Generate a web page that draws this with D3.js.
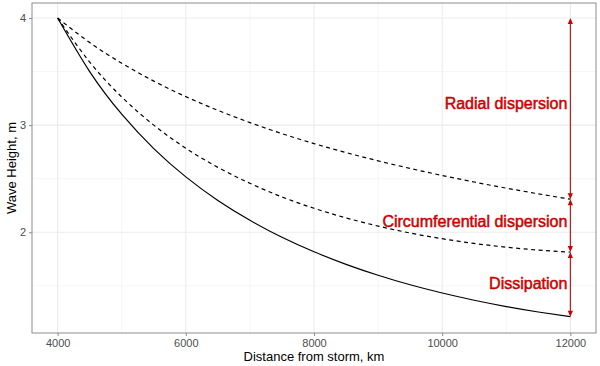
<!DOCTYPE html>
<html>
<head>
<meta charset="utf-8">
<script src="https://cdn.jsdelivr.net/npm/d3@7"></script>
<style>
  html, body { margin: 0; padding: 0; background: #fff; }
  svg { display: block; font-family: "Liberation Sans", Arial, sans-serif; }
</style>
</head>
<body>
<div id="chart"></div>
<script>
// distance from storm (km)
const distance = [4000, 4500, 5000, 5500, 6000, 6500, 7000, 7500, 8000,
  8500, 9000, 9500, 10000, 10500, 11000, 11500, 12000];
// wave height, radial dispersion only (upper dashed)
const radial = [4.000, 3.771, 3.578, 3.411, 3.266, 3.138, 3.024, 2.921, 2.828,
  2.744, 2.667, 2.596, 2.530, 2.469, 2.412, 2.359, 2.309];
// + circumferential dispersion (lower dashed)
const circumferential = [4.000, 3.589, 3.263, 3.000, 2.784, 2.606, 2.457, 2.330, 2.224,
  2.134, 2.058, 1.993, 1.940, 1.896, 1.861, 1.834, 1.815];
// + dissipation (solid)
const dissipation = [4.000, 3.500, 3.102, 2.781, 2.517, 2.297, 2.112, 1.953, 1.818,
  1.701, 1.599, 1.510, 1.433, 1.366, 1.307, 1.256, 1.212];

const xTicks = [4000, 6000, 8000, 10000, 12000];
const xMinor = [5000, 7000, 9000, 11000];
const yTicks = [2, 3, 4];
const yMinor = [1.5, 2.5, 3.5];

const annoLabels = ['Radial dispersion', 'Circumferential dispersion', 'Dissipation'];
const annoLabelY = [3.2, 2.1, 1.52];

const width = 600, height = 366;
const panel = { left: 32, right: 596, top: 3, bottom: 333 };
const red = '#cd0000';

const svg = d3.select('#chart').append('svg')
  .attr('width', width)
  .attr('height', height);

const x = d3.scaleLinear().domain([3600, 12400]).range([panel.left, panel.right]);
const y = d3.scaleLinear().domain([1.06, 4.14]).range([panel.bottom, panel.top]);

// grid
const grid = svg.append('g');
grid.selectAll('.xminor').data(xMinor).enter().append('line')
  .attr('x1', d => x(d)).attr('x2', d => x(d))
  .attr('y1', panel.top).attr('y2', panel.bottom)
  .attr('stroke', '#f0f0f0').attr('stroke-width', 0.7);
grid.selectAll('.yminor').data(yMinor).enter().append('line')
  .attr('y1', d => y(d)).attr('y2', d => y(d))
  .attr('x1', panel.left).attr('x2', panel.right)
  .attr('stroke', '#f0f0f0').attr('stroke-width', 0.7);
grid.selectAll('.xmajor').data(xTicks).enter().append('line')
  .attr('x1', d => x(d)).attr('x2', d => x(d))
  .attr('y1', panel.top).attr('y2', panel.bottom)
  .attr('stroke', '#ebebeb').attr('stroke-width', 1.1);
grid.selectAll('.ymajor').data(yTicks).enter().append('line')
  .attr('y1', d => y(d)).attr('y2', d => y(d))
  .attr('x1', panel.left).attr('x2', panel.right)
  .attr('stroke', '#ebebeb').attr('stroke-width', 1.1);

// lines
const line = d3.line()
  .x((d, i) => x(distance[i]))
  .y(d => y(d))
  .curve(d3.curveNatural);

svg.append('path').datum(radial)
  .attr('d', line).attr('fill', 'none')
  .attr('stroke', '#000').attr('stroke-width', 1.2)
  .attr('stroke-dasharray', '4,3.5');
svg.append('path').datum(circumferential)
  .attr('d', line).attr('fill', 'none')
  .attr('stroke', '#000').attr('stroke-width', 1.2)
  .attr('stroke-dasharray', '4,3.5');
svg.append('path').datum(dissipation)
  .attr('d', line).attr('fill', 'none')
  .attr('stroke', '#000').attr('stroke-width', 1.2);

// annotation arrows at the last distance
const last = distance.length - 1;
const ends = [radial[0], radial[last], circumferential[last], dissipation[last]];
const segs = d3.range(3).map(i => ({ from: ends[i], to: ends[i + 1] }));
const ax = x(distance[last]);
const anno = svg.append('g');

segs.forEach(s => {
  const y1 = y(s.from), y2 = y(s.to);
  anno.append('line')
    .attr('x1', ax).attr('x2', ax)
    .attr('y1', y1 + 2).attr('y2', y2 - 2)
    .attr('stroke', red).attr('stroke-width', 1.1);
  // arrow heads at both ends
  anno.append('path')
    .attr('d', `M${ax},${y1} L${ax - 2.6},${y1 + 6} L${ax + 2.6},${y1 + 6} Z`)
    .attr('fill', red);
  anno.append('path')
    .attr('d', `M${ax},${y2} L${ax - 2.6},${y2 - 6} L${ax + 2.6},${y2 - 6} Z`)
    .attr('fill', red);
});

anno.selectAll('.lab').data(annoLabels).enter().append('text')
  .attr('x', ax - 3)
  .attr('y', (d, i) => y(annoLabelY[i]))
  .attr('dy', '0.35em')
  .attr('text-anchor', 'end')
  .style('font-size', '16px')
  .style('fill', red)
  .style('stroke', red)
  .style('stroke-width', 0.5)
  .text(d => d);

// panel border
svg.append('rect')
  .attr('x', panel.left).attr('y', panel.top)
  .attr('width', panel.right - panel.left)
  .attr('height', panel.bottom - panel.top)
  .attr('fill', 'none').attr('stroke', '#8c8c8c').attr('stroke-width', 1);

// axes
const xAxis = svg.append('g')
  .attr('transform', `translate(0,${panel.bottom})`)
  .call(d3.axisBottom(x).tickValues(xTicks).tickSize(3).tickPadding(3).tickFormat(d3.format('d')));
const yAxis = svg.append('g')
  .attr('transform', `translate(${panel.left},0)`)
  .call(d3.axisLeft(y).tickValues(yTicks).tickSize(3).tickPadding(3).tickFormat(d3.format('d')));

[xAxis, yAxis].forEach(a => {
  a.select('.domain').remove();
  a.selectAll('.tick line').attr('stroke', '#8c8c8c');
  a.selectAll('.tick text')
    .style('font-family', '"Liberation Sans", Arial, sans-serif')
    .style('font-size', '11px')
    .style('fill', '#4d4d4d');
});

// axis titles
svg.append('text')
  .attr('x', (panel.left + panel.right) / 2)
  .attr('y', 361)
  .attr('text-anchor', 'middle')
  .style('font-size', '13px')
  .style('fill', '#000')
  .text('Distance from storm, km');

svg.append('text')
  .attr('transform', `translate(16,${(panel.top + panel.bottom) / 2}) rotate(-90)`)
  .attr('text-anchor', 'middle')
  .style('font-size', '13px')
  .style('fill', '#000')
  .text('Wave Height, m');
</script>
</body>
</html>
